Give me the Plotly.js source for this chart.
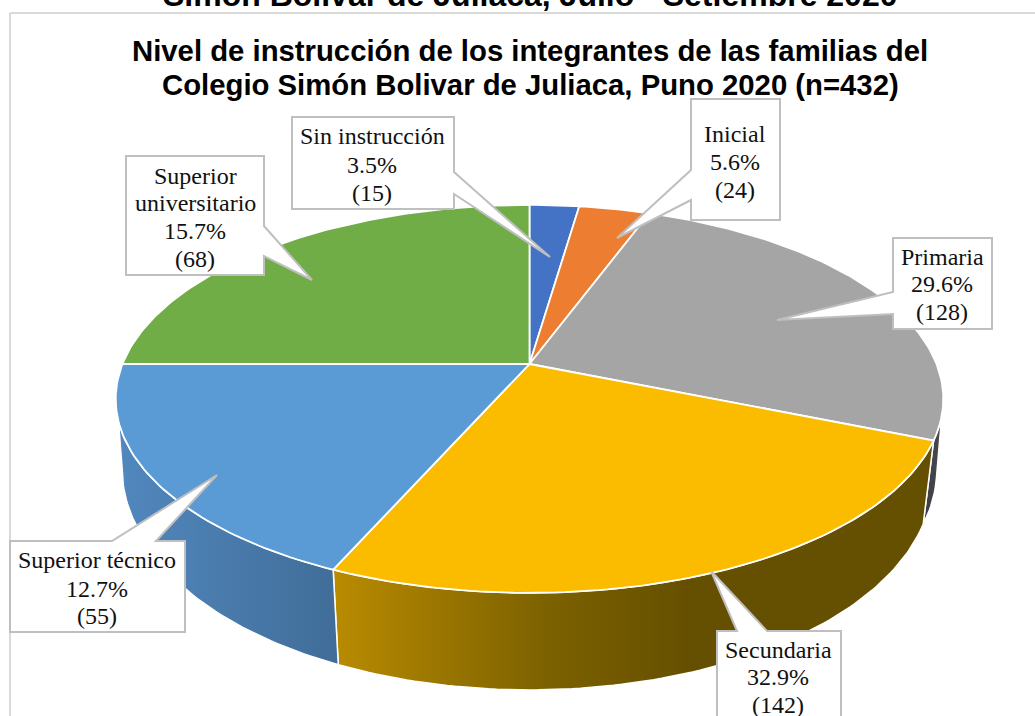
<!DOCTYPE html>
<html><head><meta charset="utf-8">
<script src="https://cdn.plot.ly/plotly-3.0.1.min.js"></script>
<style>html,body{margin:0;padding:0;background:#fff;overflow:hidden}#c{width:1035px;height:716px}</style>
</head><body><div id="c"></div>
<script>
// Data
const categories = ["Sin instrucción","Inicial","Primaria","Secundaria","Superior técnico","Superior universitario"];
const percents = ["3.5%","5.6%","29.6%","32.9%","12.7%","15.7%"];
const counts = [15,24,128,142,55,68];
const drawnShares = [2.3,3.3,25.6,25.4,18.4,25.0];
const topColors = ["#4472C4","#ED7D31","#A5A5A5","#FBBC00","#5B9BD5","#70AD47"];
const sideScales = [null,null,
  [[0,"#3c3c44"],[1,"#4a4a52"]],
  [[0,"#B98B00"],[0.35,"#7d6200"],[0.6,"#654f00"],[1,"#654f00"]],
  [[0,"#5288bf"],[1,"#406d98"]],
  null];

// Projection of the tilted disc
const cx=529.5, cy=364, R=407, H=187.7, K=0.18;
function topPt(deg){const a=deg*Math.PI/180,u=Math.sin(a),v=Math.cos(a),d=1+K*v;
  return [cx+R*u/d, cy-H*v/d];}
function botPt(deg){const p=topPt(deg);const s=0.974+Math.max(0,441-p[1])*0.00022;
  return [cx+s*(p[0]-cx), 1.086*p[1]+46];}
function arc(fn,a,b){const n=Math.max(2,Math.ceil(Math.abs(b-a)));const o=[];
  for(let i=0;i<=n;i++)o.push(fn(a+(b-a)*i/n));return o;}
const traces=[];
let run=0; const bounds=drawnShares.map(s=>{const a=run;run+=s;return [a*3.6,run*3.6];});
function poly(pts,extra){traces.push(Object.assign({type:"scatter",mode:"lines",x:pts.map(p=>p[0]),y:pts.map(p=>p[1]),
  fill:"toself",hoverinfo:"skip",showlegend:false},extra));}
// visible wall sections
const walls=[[2,100,bounds[2][1]],[3,bounds[3][0],bounds[3][1]],[4,bounds[4][0],262]];
walls.forEach(([i,a,b])=>{
  const pts=arc(topPt,a,b).concat(arc(botPt,b,a));pts.push(pts[0]);
  poly(pts,{line:{color:"#ffffff",width:1.5},fillcolor:sideScales[i][0][1],
    fillgradient:{type:"horizontal",colorscale:sideScales[i]}});
});
// top faces
bounds.forEach(([a,b],i)=>{
  const pts=[[cx,cy]].concat(arc(topPt,a,b));pts.push([cx,cy]);
  poly(pts,{line:{color:"#ffffff",width:1.8},fillcolor:topColors[i]});
});

// Callouts: box [x0,y0,x1,y1], side, pointer base a,b, tip
const callouts=[
 {b:[292,117,454,209],s:"r",p:[[454,172],[550,257],[454,194]],lines:[0],ys:[136,165,193],cx:372},
 {b:[691,99,780,220],s:"l",p:[[691,200],[617,238],[691,170]],lines:[1],ys:[134,162,190],cx:735},
 {b:[893,238,992,329],s:"l",p:[[893,314],[777,320],[893,292]],lines:[2],ys:[257,284,312],cx:942},
 {b:[717,631,841,730],s:"t",p:[[737,631],[711,571],[767,631]],lines:[3],ys:[650,677,705],cx:778},
 {b:[10,541,185,632],s:"t",p:[[112,541],[217,475],[156,541]],lines:[4],ys:[560,589,616],cx:97},
 {b:[126,156,264,275],s:"r",p:[[264,226],[312,280],[264,256]],lines:[5],ys:[176,203,231,259],cx:195}
];
function calloutPath(c){const [x0,y0,x1,y1]=c.b,[a,t,e]=c.p;
  const P=(q)=>q[0]+","+q[1];let d="M"+x0+","+y0;
  if(c.s==="t") d+=" L"+P(a)+" L"+P(t)+" L"+P(e);
  d+=" L"+x1+","+y0;
  if(c.s==="r") d+=" L"+P(a)+" L"+P(t)+" L"+P(e);
  d+=" L"+x1+","+y1+" L"+x0+","+y1;
  if(c.s==="l") d+=" L"+P(a)+" L"+P(t)+" L"+P(e);
  return d+" Z";}
const shapes=[
 {type:"line",xref:"x",yref:"y",x0:10,x1:10,y0:13,y1:716,line:{color:"#d9d9d9",width:2}},
 {type:"line",xref:"x",yref:"y",x0:10,x1:1035,y0:13,y1:13,line:{color:"#d9d9d9",width:2}}
].concat(callouts.map(c=>({type:"path",xref:"x",yref:"y",path:calloutPath(c),fillcolor:"#ffffff",
  line:{color:"#bfbfbf",width:2},layer:"above"})));
const annotations=[];
const serif="'Liberation Serif','Times New Roman',serif", sans="'Liberation Sans',Arial,sans-serif";
callouts.forEach(c=>{const i=c.lines[0];
  const name=categories[i]==="Superior universitario"?["Superior","universitario"]:[categories[i]];
  name.concat([percents[i],"("+counts[i]+")"]).forEach((t,j)=>annotations.push({
    xref:"x",yref:"y",x:c.cx,y:c.ys[j],text:t,showarrow:false,xanchor:"center",yanchor:"middle",
    font:{family:serif,size:24,color:"#111"}}));
});
const titleLines=[["Nivel de instrucción de los integrantes de las familias del",530,50],
                  ["Colegio Simón Bolivar de Juliaca, Puno 2020 (n=432)",530,84]];
titleLines.forEach(([t,x,y])=>annotations.push({xref:"x",yref:"y",x:x,y:y,text:"<b>"+t+"</b>",showarrow:false,
  xanchor:"center",yanchor:"middle",font:{family:sans,size:29.3,color:"#000"}}));
annotations.push({xref:"x",yref:"paper",x:530,y:1,yshift:5,text:"<b>Simón Bolivar de Juliaca, Julio - Setiembre 2020</b>",
  showarrow:false,xanchor:"center",yanchor:"middle",font:{family:sans,size:32,color:"#000"}});

Plotly.newPlot("c",traces,{
  width:1035,height:716,margin:{l:0,r:0,t:0,b:0},paper_bgcolor:"#fff",plot_bgcolor:"#fff",showlegend:false,
  xaxis:{range:[0,1035],visible:false,fixedrange:true},
  yaxis:{range:[716,0],visible:false,fixedrange:true},
  shapes:shapes,annotations:annotations
},{displayModeBar:false,staticPlot:true});
</script></body></html>
